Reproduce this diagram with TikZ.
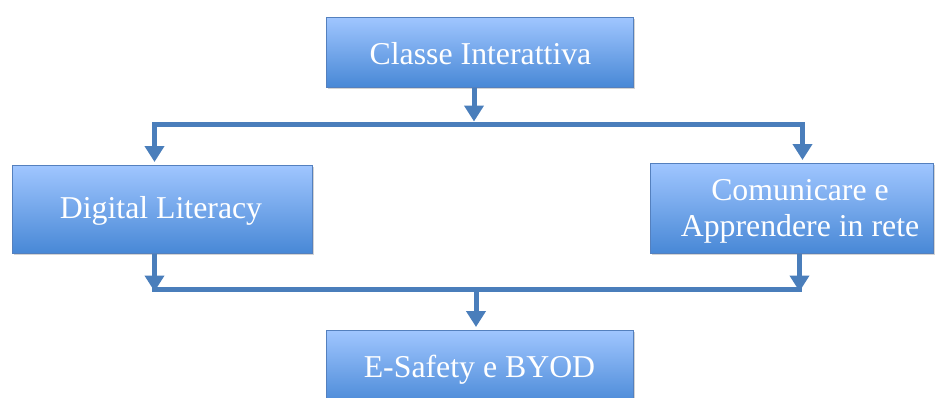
\documentclass[tikz,border=0pt]{standalone}
\usepackage{fontspec}
\setmainfont{Liberation Serif}
\usetikzlibrary{arrows.meta,shadows}
\definecolor{linkblue}{RGB}{74,126,187}
\definecolor{boxtop}{RGB}{160,198,255}
\definecolor{boxbot}{RGB}{72,136,214}
\definecolor{boxline}{RGB}{84,128,190}
\begin{document}
\begin{tikzpicture}[x=1pt,y=-1pt,
    box/.style={draw=boxline,line width=1pt,top color=boxtop,bottom color=boxbot,
        drop shadow={shadow xshift=1.5pt,shadow yshift=-2pt,opacity=.35},inner sep=0pt},
    lbl/.style={text=white,align=center,font=\fontsize{31.8}{36}\selectfont},
    link/.style={draw=linkblue,line width=5pt,line cap=rect},
    arr/.style={draw=linkblue,line width=5pt,-{Triangle[width=19pt,length=16pt]}}]
    \useasboundingbox (0,0) rectangle (935,397);
    % boxes
    \node[box,minimum width=307pt,minimum height=70pt] (cls) at (479.5,52) {};
    \node[lbl] (clstext) at (480.5,54) {Classe Interattiva};
    \node[box,minimum width=300pt,minimum height=88pt] (dig) at (162,209) {};
    \node[lbl] (digtext) at (161,211) {Digital Literacy};
    \node[box,minimum width=283pt,minimum height=90pt] (comm) at (791.5,208) {};
    \node[lbl] (commtext) at (800,211) {Comunicare e\\Apprendere in rete};
    \node[box,minimum width=307pt,minimum height=76pt] (esaf) at (479.5,368) {};
    \node[lbl] (esaftext) at (479.5,370) {E-Safety e BYOD};
    % junctions
    \coordinate (j1) at (474,124.5);
    \coordinate (jl) at (154.5,124.5);
    \coordinate (jr) at (802.5,124.5);
    \coordinate (j2) at (476,289.5);
    \coordinate (jl2) at (154.5,289.5);
    \coordinate (jr2) at (799.5,289.5);
    % upper split
    \draw[arr,shorten >=3pt] (cls.south -| j1) -- (j1);
    \draw[link] (jl) -- (jr);
    \draw[arr,shorten >=2.5pt] (jl) -- (jl |- dig.north);
    \draw[arr,shorten >=2.5pt] (jr) -- (jr |- comm.north);
    % lower merge
    \draw[arr,shorten >=-2pt] (dig.south -| jl2) -- (jl2);
    \draw[arr,shorten >=-2pt] (comm.south -| jr2) -- (jr2);
    \draw[link] (jl2) -- (jr2);
    \draw[arr,shorten >=2.5pt] (j2) -- (j2 |- esaf.north);
\end{tikzpicture}
\end{document}
